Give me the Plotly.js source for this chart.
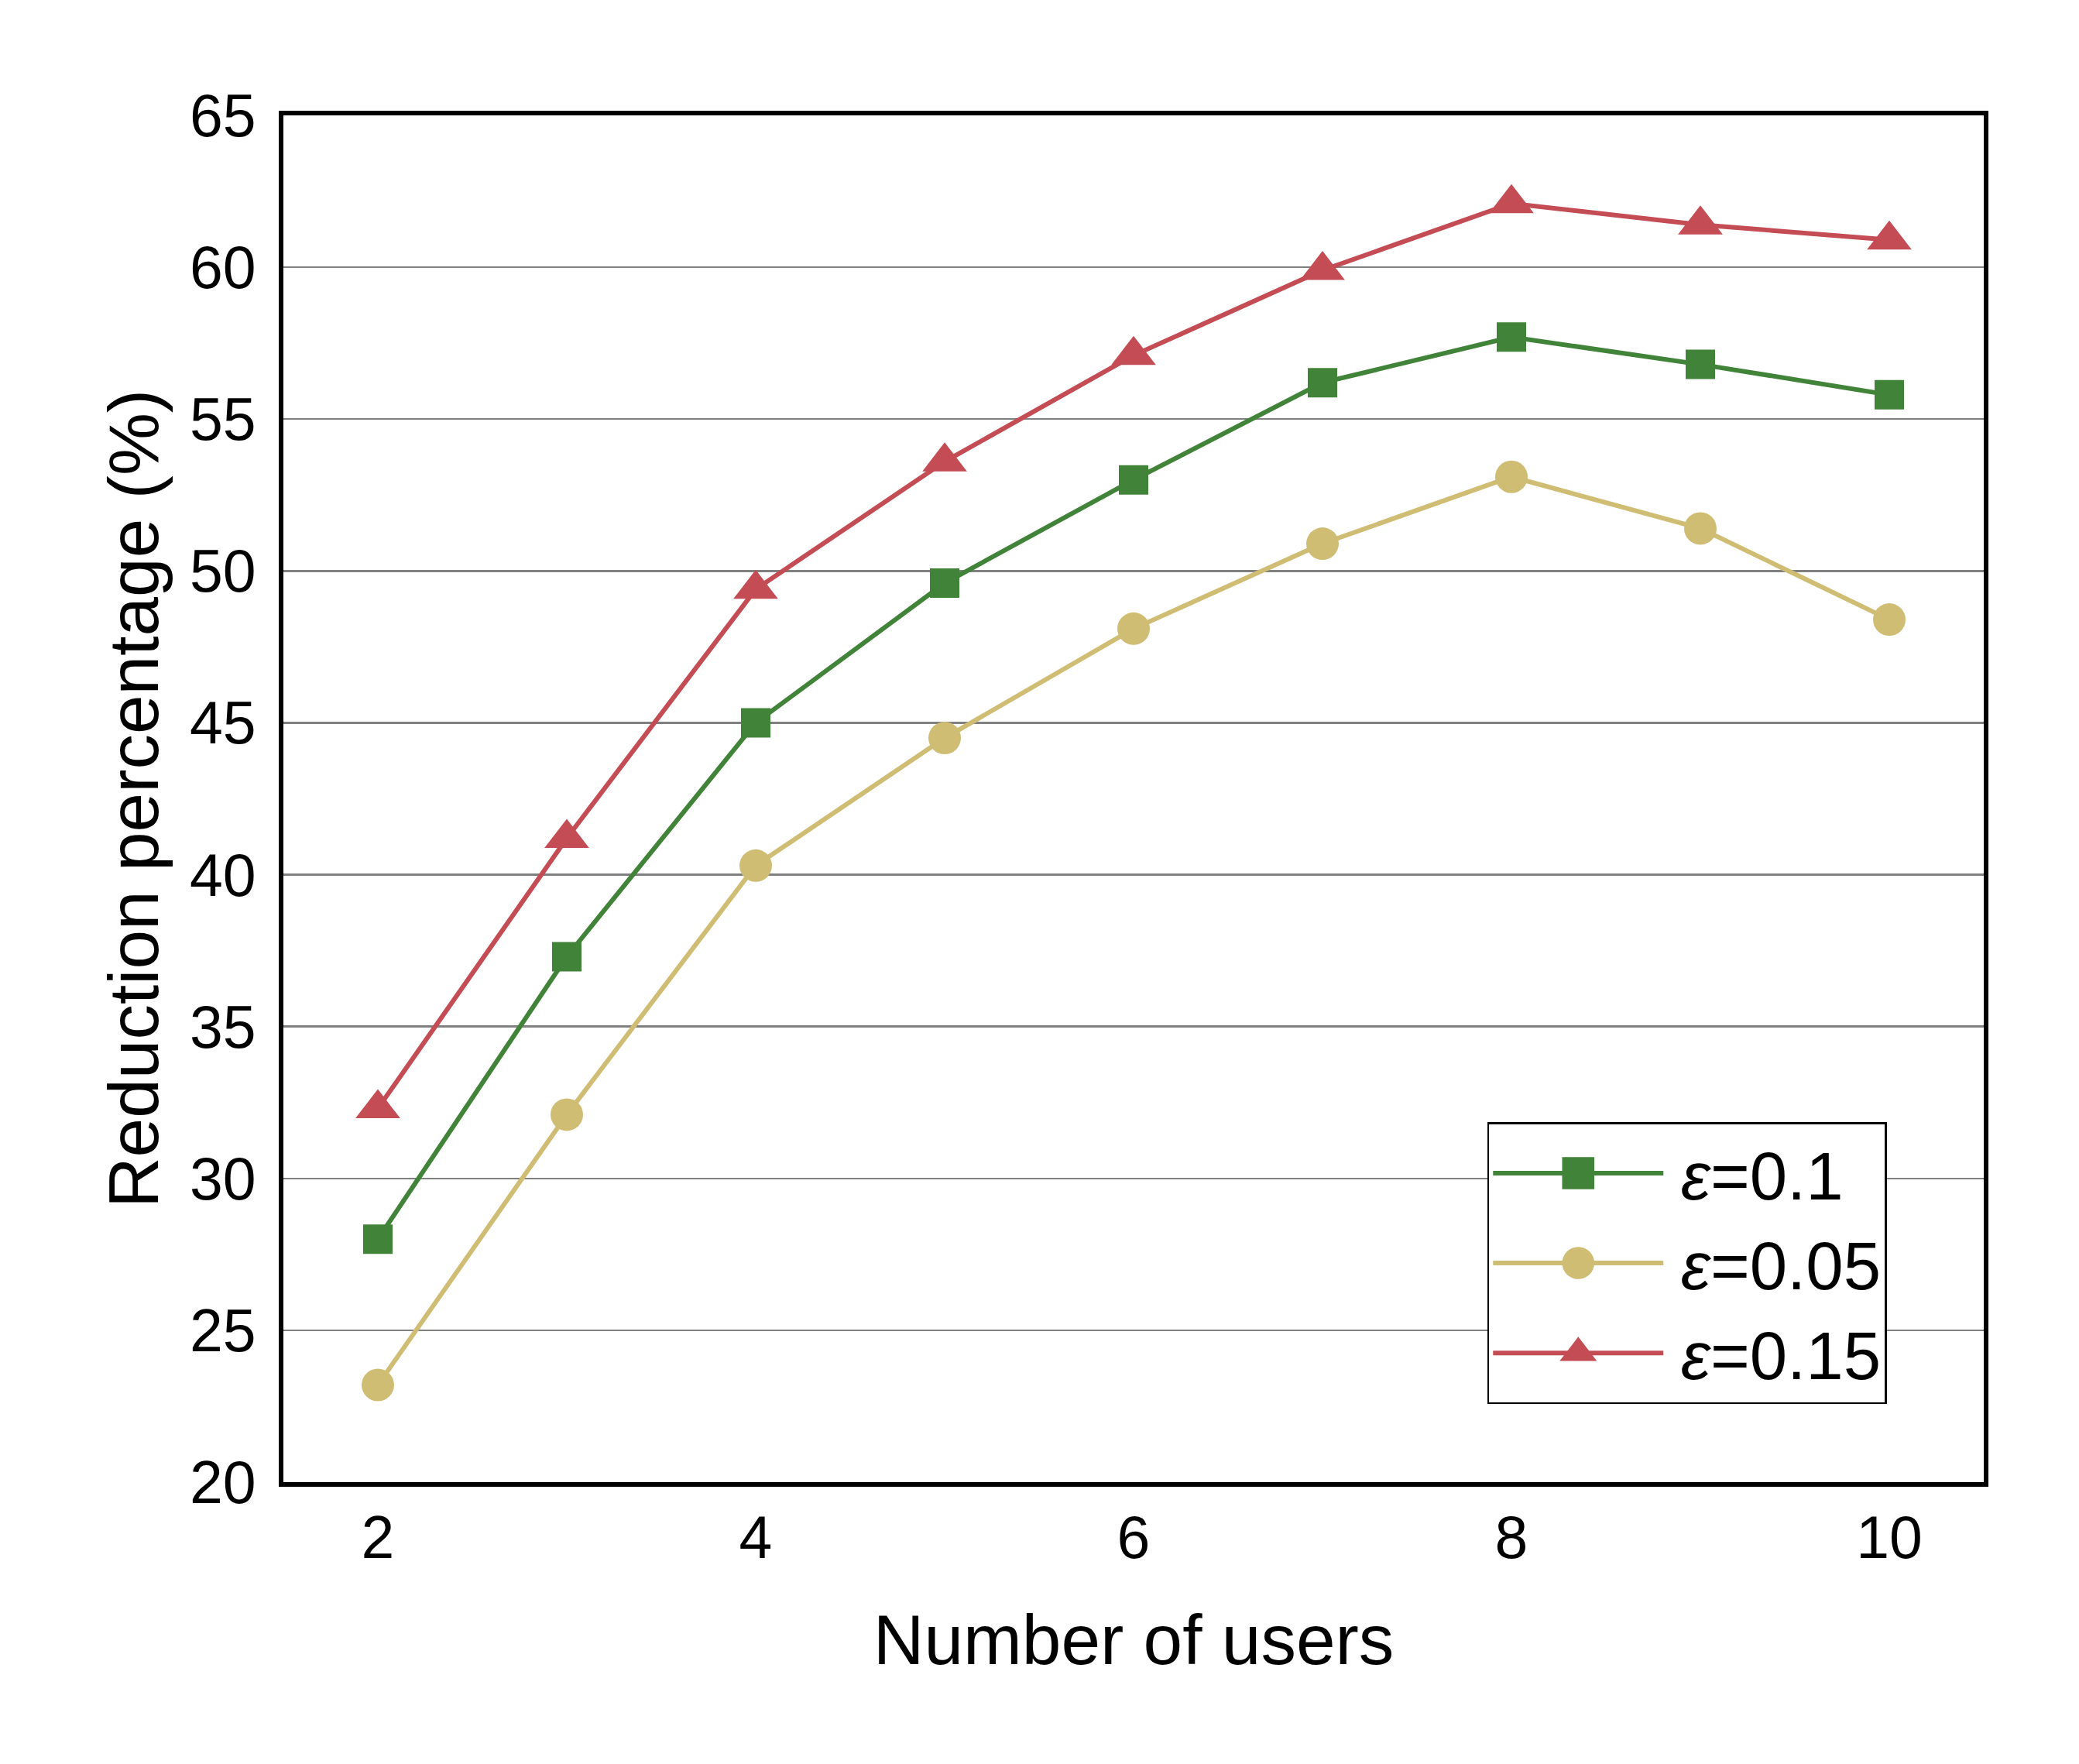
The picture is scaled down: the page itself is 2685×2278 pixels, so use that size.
<!DOCTYPE html>
<html>
<head>
<meta charset="utf-8">
<script src="https://cdn.plot.ly/plotly-3.0.1.min.js"></script>
<style>
html,body{margin:0;padding:0;background:#fff;}
#chart{width:2685px;height:2278px;}
</style>
</head>
<body>
<div id="chart"></div>
<script>
const users = [2, 3, 4, 5, 6, 7, 8, 9, 10];
const eps01 = [28.0, 37.3, 45.0, 49.6, 53.0, 56.2, 57.7, 56.8, 55.8];
const eps005 = [23.2, 32.1, 40.3, 44.5, 48.1, 50.9, 53.1, 51.4, 48.4];
const eps015 = [32.3, 41.2, 49.4, 53.6, 57.1, 59.9, 62.1, 61.4, 60.9];
const seriesNames = ['\u2009<i>ε</i>=0.1', '\u2009<i>ε</i>=0.05', '\u2009<i>ε</i>=0.15'];
const xTicks = [2, 4, 6, 8, 10];
const yTicks = [20, 25, 30, 35, 40, 45, 50, 55, 60, 65];

const FONT = '"Liberation Sans", Arial, Helvetica, sans-serif';

const traces = [
  {x: users, y: eps01, name: seriesNames[0], mode: 'lines+markers',
   line: {color: '#418339', width: 6},
   marker: {symbol: 'square', size: 38, color: '#418339'}},
  {x: users, y: eps005, name: seriesNames[1], mode: 'lines+markers',
   line: {color: '#d0bd74', width: 6},
   marker: {symbol: 'circle', size: 42, color: '#d0bd74'}},
  {x: users, y: eps015, name: seriesNames[2], mode: 'lines+markers',
   line: {color: '#c44c54', width: 6},
   marker: {symbol: 'triangle-up', size: 50, color: '#c44c54'}}
];

const layout = {
  width: 2685, height: 2278,
  paper_bgcolor: '#ffffff', plot_bgcolor: '#ffffff',
  font: {family: FONT, color: '#000000', size: 77},
  margin: {l: 366, r: 123, t: 149, b: 364, pad: 0},
  showlegend: true,
  legend: {
    x: 0.708, y: 0.057, xanchor: 'left', yanchor: 'bottom',
    bgcolor: '#ffffff', bordercolor: '#000000', borderwidth: 2.5,
    font: {family: FONT, size: 87, color: '#000000'},
    itemwidth: 220, tracegroupgap: 0
  },
  xaxis: {
    range: [1.5, 10.5], tickvals: xTicks, ticktext: xTicks.map(String),
    showgrid: false, zeroline: false, ticks: '',
    showline: true, mirror: true, linecolor: '#000000', linewidth: 6,
    tickfont: {family: FONT, size: 77},
    title: {text: 'Number of users', font: {family: FONT, size: 91}, standoff: 60}
  },
  yaxis: {
    range: [20, 65], tickvals: yTicks, ticktext: yTicks.map(String),
    showgrid: true, gridcolor: '#808080', gridwidth: 2.5,
    zeroline: false, ticks: '', ticklabelstandoff: 14,
    showline: true, mirror: true, linecolor: '#000000', linewidth: 6,
    tickfont: {family: FONT, size: 77},
    title: {text: 'Reduction percentage (%)', font: {family: FONT, size: 91}, standoff: 12}
  }
};

Plotly.newPlot('chart', traces, layout, {displayModeBar: false, staticPlot: true}).then(function(gd){
  // enlarge legend marker glyphs to match the reference
  const pts = gd.querySelectorAll('.legend .legendpoints path.scatterpts');
  pts.forEach(function(p){
    const t = p.getAttribute('transform') || '';
    p.setAttribute('transform', t + ' scale(2.6)');
  });
});
</script>
</body>
</html>
